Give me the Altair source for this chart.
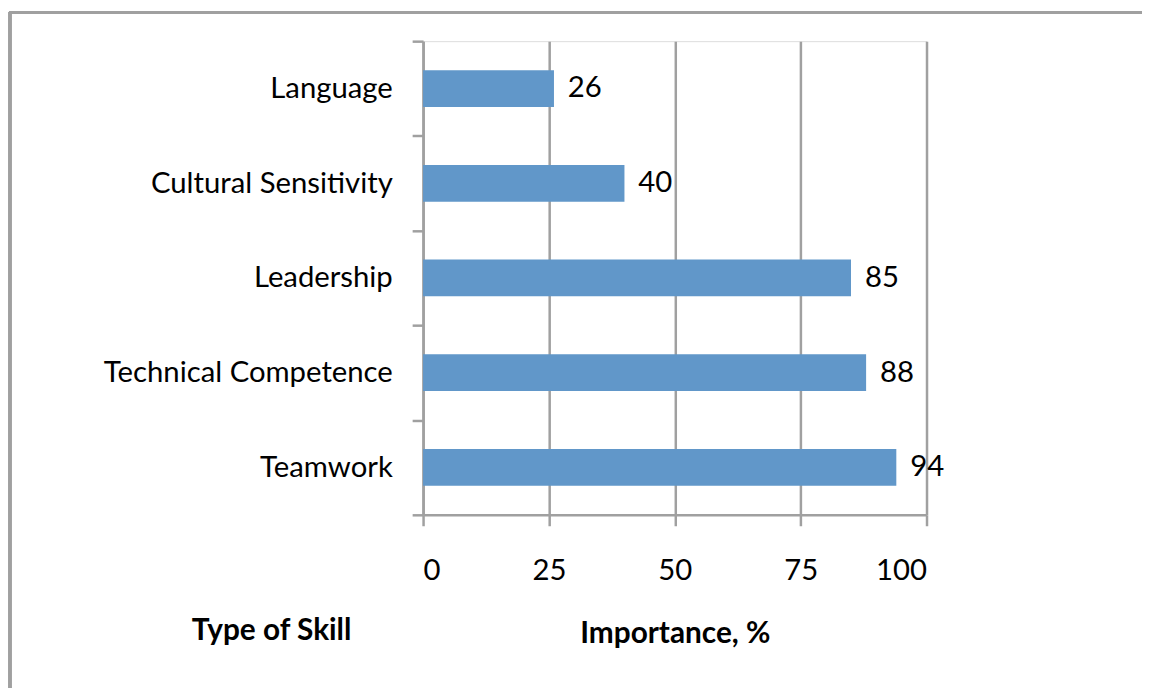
import altair as alt
import pandas as pd

skills = ["Language", "Cultural Sensitivity", "Leadership", "Technical Competence", "Teamwork"]
importance = [26, 40, 85, 88, 94]
x_ticks = [0, 25, 50, 75, 100]

df = pd.DataFrame({"skill": skills, "value": importance})

FONT = "Lato"
GRAY = "#a0a0a0"

y_enc = alt.Y(
    "skill:N",
    sort=skills,
    scale=alt.Scale(paddingInner=0, paddingOuter=0),
    axis=alt.Axis(
        title="Type of Skill",
        titleAngle=0,
        titleX=-153,
        titleY=594,
        titleAlign="center",
        titleBaseline="middle",
        titleFont=FONT,
        titleFontSize=30,
        titleFontWeight="bold",
        titleColor="black",
        labelFont=FONT,
        labelFontSize=29.5,
        labelColor="black",
        labelPadding=20,
        labelLimit=0,
        tickBand="extent",
        tickSize=11,
        tickColor=GRAY,
        tickWidth=2.5,
        domainColor=GRAY,
        domainWidth=2.5,
        grid=False,
    ),
)

x_scale = alt.Scale(domain=[0, 100], nice=False)

bars = alt.Chart(df).mark_bar(color="#6197c9", size=37).encode(
    x=alt.X(
        "value:Q",
        scale=x_scale,
        axis=alt.Axis(
            values=x_ticks,
            title="Importance, %",
            titleFont=FONT,
            titleFontSize=30,
            titleFontWeight="bold",
            titleColor="black",
            titleY=120,
            titleBaseline="middle",
            labelFont=FONT,
            labelFontSize=29.5,
            labelColor="black",
            labelPadding=31,
            tickSize=11,
            tickColor=GRAY,
            tickWidth=2.5,
            domainColor=GRAY,
            domainWidth=2.5,
            grid=True,
            gridColor=GRAY,
            gridWidth=2.5,
        ),
    ),
    y=y_enc,
)

labels = alt.Chart(df).mark_text(
    align="left", baseline="middle", dx=14, font=FONT, fontSize=29.5, color="black"
).encode(
    x=alt.X("value:Q", scale=x_scale),
    y=alt.Y("skill:N", sort=skills),
    text="value:Q",
)

border_left = alt.Chart(df).mark_rule(color="#a0a0a0", strokeWidth=3).encode(
    x=alt.value(-416), y=alt.value(-29), y2=alt.value(700)
)
border_top = alt.Chart(df).mark_rule(color="#a0a0a0", strokeWidth=3).encode(
    x=alt.value(-417), x2=alt.value(900), y=alt.value(-29)
)

chart = alt.layer(bars, labels, border_left, border_top).properties(
    width=507,
    height=477,
    autosize=alt.AutoSizeParams(type="none"),
    padding={"left": 418, "top": 31, "right": 217, "bottom": 172},
).configure_view(stroke=None).configure(background="white")

chart.save("out.html", embed_options={"renderer": "svg", "actions": False})
